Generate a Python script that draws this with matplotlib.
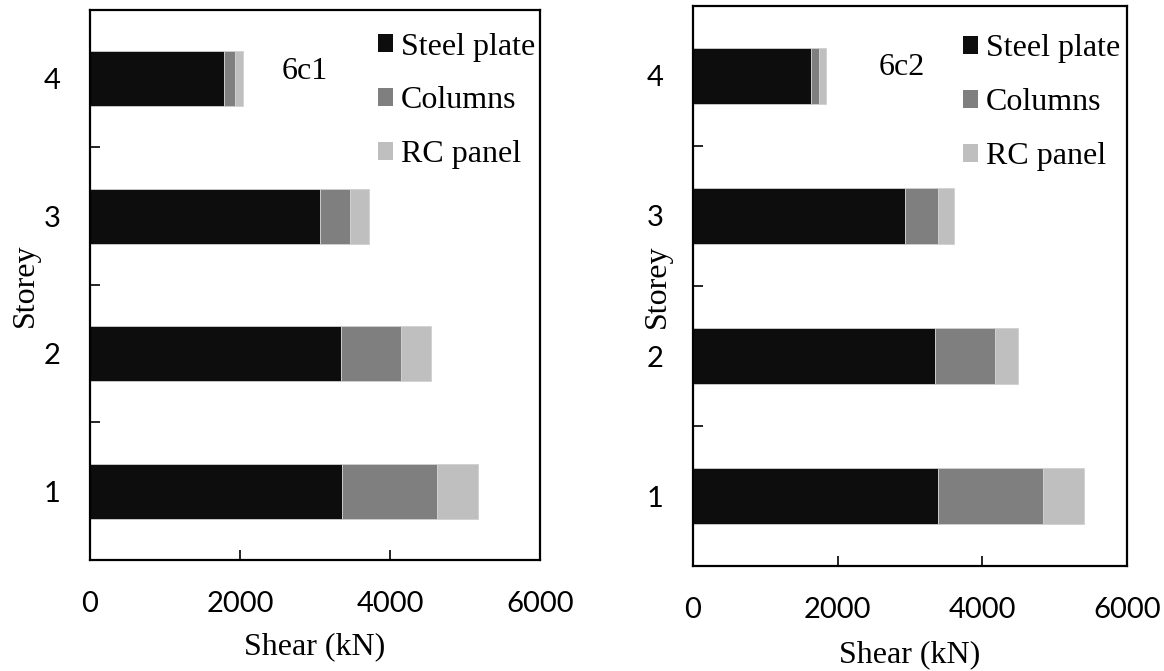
import numpy as np
import matplotlib.pyplot as plt
from matplotlib.patches import Patch

# storey shear split between steel plate, columns and RC panel (kN)
storeys = [1, 2, 3, 4]
components = ["Steel plate", "Columns", "RC panel"]
colors = ["#0d0d0d", "#7f7f7f", "#bfbfbf"]

steel_6c1 = [3360, 3350, 3060, 1780]
columns_6c1 = [1265, 800, 400, 155]
panel_6c1 = [545, 400, 255, 105]

steel_6c2 = [3390, 3350, 2930, 1630]
columns_6c2 = [1455, 825, 460, 110]
panel_6c2 = [555, 315, 215, 105]

serif = "Liberation Serif"
sans = "Lato"

fig = plt.figure(figsize=(11.64, 6.71), dpi=100)
ax1 = fig.add_axes([0.07732, 0.16542, 0.3866, 0.8197])
ax2 = fig.add_axes([0.59536, 0.15648, 0.37285, 0.83458])


def draw(ax, parts, name, name_pos, label_x, legend_anchor, xlabelpad):
    y = np.array(storeys)
    left = np.zeros(len(storeys))
    for vals, col, lab in zip(parts, colors, components):
        ax.barh(y, vals, left=left, height=0.4, color=col,
                edgecolor="#d0d0d0", linewidth=0.6, label=lab)
        left += np.array(vals)

    ax.set_xlim(0, 6000)
    ax.set_ylim(0.5, 4.5)
    ax.set_xticks([0, 2000, 4000, 6000])
    ax.set_yticks(storeys)
    ax.set_yticks([1.5, 2.5, 3.5], minor=True)
    ax.tick_params(axis="x", direction="in", length=7, width=1.2, pad=22,
                   labelsize=21)
    ax.tick_params(axis="y", which="major", length=0, pad=21, labelsize=21)
    ax.tick_params(axis="y", which="minor", direction="in", length=7,
                   width=1.2)
    for lab in ax.get_xticklabels() + ax.get_yticklabels():
        lab.set_fontfamily(sans)
    for sp in ax.spines.values():
        sp.set_linewidth(1.6)

    ax.set_xlabel("Shear (kN)", fontsize=23, family=serif,
                  labelpad=xlabelpad)
    ax.set_ylabel("Storey", fontsize=23, family=serif)
    ax.yaxis.set_label_coords(label_x, 0.5)

    ax.text(name_pos[0], name_pos[1], name, fontsize=23, family=serif,
            ha="center", va="center")

    handles = [Patch(facecolor=c) for c in colors]
    ax.legend(handles, components, loc="upper left",
              bbox_to_anchor=legend_anchor, frameon=False,
              prop={"family": serif, "size": 23}, borderpad=0,
              handlelength=0.47, handleheight=0.47, handletextpad=0.25,
              labelspacing=0.78, borderaxespad=0)


draw(ax1, [steel_6c1, columns_6c1, panel_6c1], "6c1", (2860, 4.05),
     -0.112, (0.64, 0.959), 11)
draw(ax2, [steel_6c2, columns_6c2, panel_6c2], "6c2", (2890, 4.06),
     -0.048, (0.621, 0.9495), 13)

fig.savefig("out.png", dpi=100)
